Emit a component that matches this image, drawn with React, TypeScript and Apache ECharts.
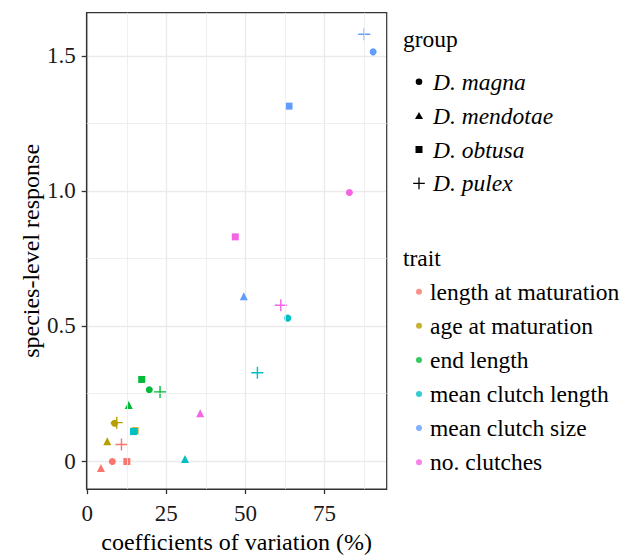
import React, { useEffect, useRef } from "react";
import * as echarts from "echarts";

// ---- data ----
const traits = [
  "length at maturation",
  "age at maturation",
  "end length",
  "mean clutch length",
  "mean clutch size",
  "no. clutches",
];
const traitColors = ["#F8766D", "#B79F00", "#00BA38", "#00BFC4", "#619CFF", "#F564E3"];
const speciesNames = ["D. magna", "D. mendotae", "D. obtusa", "D. pulex"];

// values in trait order (coefficient of variation %, species-level response)
const magnaCV = [7.9, 8.6, 19.6, 63.4, 90.4, 82.9];
const magnaResp = [-0.002, 0.14, 0.264, 0.529, 1.515, 0.994];
const mendotaeCV = [4.3, 6.3, 13.1, 30.9, 49.5, 35.7];
const mendotaeResp = [-0.026, 0.073, 0.207, 0.007, 0.61, 0.177];
const obtusaCV = [12.5, 15.1, 17.2, 14.6, 63.8, 46.8];
const obtusaResp = [-0.002, 0.112, 0.302, 0.109, 1.314, 0.83];
const pulexCV = [10.8, 9.3, 23.0, 53.8, 87.6, 61.2];
const pulexResp = [0.061, 0.142, 0.256, 0.327, 1.58, 0.577];

const xTicks = [0, 25, 50, 75];
const xTickLabels = ["0", "25", "50", "75"];
const yTicks = [0, 0.5, 1, 1.5];
const yTickLabels = ["0", "0.5", "1.0", "1.5"];
const xMinorGrid = [12.5, 37.5, 62.5, 87.5];
const yMinorGrid = [0.25, 0.75, 1.25];

const FONT = "'Liberation Serif', 'Times New Roman', serif";
const PLUS = "path://M0,5.3L12,5.3L12,6.7L0,6.7Z M5.3,0L6.7,0L6.7,12L5.3,12Z";
const symbols = ["circle", "triangle", "rect", PLUS];
const symbolSizes = [7, 8, 7, 12];

// legend icons (24x12 box, shape centred around x=15)
const speciesIcons = [
  "path://M0,0M24,12M15,2.7A3.3,3.3,0,1,1,15,9.3A3.3,3.3,0,1,1,15,2.7Z",
  "path://M0,0M24,12M15,2.5L19,9.5L11,9.5Z",
  "path://M0,0M24,12M11.5,2.5L18.5,2.5L18.5,9.5L11.5,9.5Z",
  "path://M0,0M24,12M9.2,5.35L20.8,5.35L20.8,6.65L9.2,6.65Z M14.35,0.2L15.65,0.2L15.65,11.8L14.35,11.8Z",
];
const traitIcon = "path://M0,0M24,12M18,3A3,3,0,1,1,18,9A3,3,0,1,1,18,3Z";

const speciesCV = [magnaCV, mendotaeCV, obtusaCV, pulexCV];
const speciesResp = [magnaResp, mendotaeResp, obtusaResp, pulexResp];

export default function App() {
  const ref = useRef<HTMLDivElement>(null);
  useEffect(() => {
    if (!ref.current) return;
    const chart = echarts.init(ref.current, undefined, { renderer: "svg" });

    const dataSeries = speciesNames.map((name, si) => ({
      name,
      type: "scatter",
      symbol: symbols[si],
      symbolSize: symbolSizes[si],
      itemStyle: { color: "#000000", opacity: 1 },
      z: 3,
      data: traits.map((_, ti) => ({
        value: [speciesCV[si][ti], speciesResp[si][ti]],
        itemStyle: { color: traitColors[ti] },
      })),
    }));

    const traitSeries = traits.map((t, ti) => ({
      name: t,
      type: "scatter",
      symbol: "circle",
      itemStyle: { color: traitColors[ti] },
      data: [],
    }));

    const gridSeries = {
      name: "__grid",
      type: "scatter",
      data: [],
      z: 1,
      silent: true,
      markLine: {
        silent: true,
        symbol: ["none", "none"],
        label: { show: false },
        lineStyle: { color: "#EBEBEB", width: 0.8, type: "solid" },
        emphasis: { disabled: true },
        data: [
          ...xMinorGrid.map((v) => ({ xAxis: v })),
          ...yMinorGrid.map((v) => ({ yAxis: v })),
        ],
      },
    };

    const axisLine = { show: true, onZero: false, lineStyle: { color: "#333333", width: 1.2 } };
    const tickStyle = { color: "#333333", width: 1.3 };

    chart.setOption({
      animation: false,
      backgroundColor: "#ffffff",
      textStyle: { fontFamily: FONT },
      grid: {
        left: 86.7,
        top: 12.7,
        right: 238.3,
        bottom: 62,
        show: true,
        borderColor: "#333333",
        borderWidth: 1.2,
        backgroundColor: "transparent",
        z: 4,
      },
      xAxis: {
        type: "value",
        min: -0.2,
        max: 94.7,
        name: "coefficients of variation (%)",
        nameLocation: "middle",
        nameGap: 36,
        nameTextStyle: { fontFamily: FONT, fontSize: 24, color: "#000" },
        axisLine,
        axisTick: { show: true, length: 5, customValues: xTicks, lineStyle: tickStyle },
        axisLabel: {
          customValues: xTicks,
          margin: 13,
          fontFamily: FONT,
          fontSize: 23,
          color: "#1a1a1a",
          formatter: (v: number) => xTickLabels[xTicks.indexOf(v)] ?? String(v),
        },
        splitLine: { show: true, lineStyle: { color: "#EBEBEB", width: 1.4 } },
      },
      yAxis: {
        type: "value",
        min: -0.104,
        max: 1.66,
        name: "species-level response",
        nameLocation: "middle",
        nameGap: 36,
        nameTextStyle: { fontFamily: FONT, fontSize: 24, color: "#000" },
        axisLine,
        axisTick: { show: true, length: 5, customValues: yTicks, lineStyle: tickStyle },
        axisLabel: {
          customValues: yTicks,
          margin: 11,
          fontFamily: FONT,
          fontSize: 23,
          color: "#1a1a1a",
          formatter: (v: number) => yTickLabels[yTicks.indexOf(v)] ?? String(v),
        },
        splitLine: { show: true, lineStyle: { color: "#EBEBEB", width: 1.4 } },
      },
      legend: [
        {
          orient: "vertical",
          left: 404,
          top: 69.7,
          padding: 0,
          itemGap: 9.9,
          itemWidth: 24,
          itemHeight: 12,
          selectedMode: false,
          textStyle: {
            fontFamily: FONT,
            fontSize: 23.5,
            fontStyle: "italic",
            color: "#000",
            lineHeight: 24,
          },
          data: speciesNames.map((n, i) => ({ name: n, icon: speciesIcons[i] })),
        },
        {
          orient: "vertical",
          left: 401,
          top: 279.7,
          padding: 0,
          itemGap: 10.1,
          itemWidth: 24,
          itemHeight: 12,
          selectedMode: false,
          textStyle: { fontFamily: FONT, fontSize: 23.5, color: "#000", lineHeight: 24 },
          data: traits.map((n) => ({ name: n, icon: traitIcon })),
        },
      ],
      graphic: [
        {
          type: "text",
          x: 403,
          y: 38.8,
          style: {
            text: "group",
            font: `23.5px ${FONT}`,
            fill: "#000",
            verticalAlign: "middle",
          },
        },
        {
          type: "text",
          x: 403,
          y: 258.1,
          style: {
            text: "trait",
            font: `23.5px ${FONT}`,
            fill: "#000",
            verticalAlign: "middle",
          },
        },
      ],
      series: [gridSeries, ...traitSeries, ...dataSeries],
    });

    return () => chart.dispose();
  }, []);

  return (
    <div
      ref={ref}
      style={{ position: "fixed", left: 0, top: 0, width: 625, height: 559, background: "#fff" }}
    />
  );
}
